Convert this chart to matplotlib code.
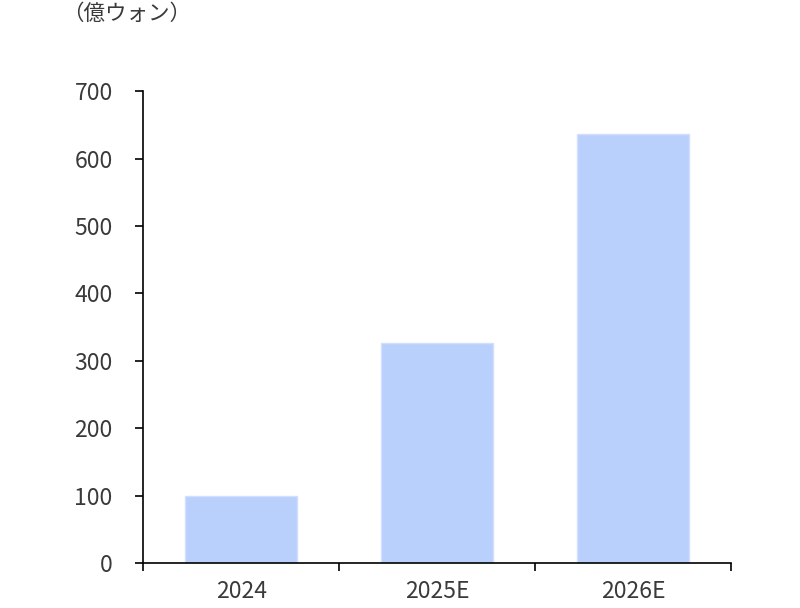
import matplotlib
matplotlib.use("Agg")
import matplotlib.pyplot as plt
from matplotlib.ticker import FixedLocator

categories = ["2024", "2025E", "2026E"]
values = [99, 326, 637]
yticks = [0, 100, 200, 300, 400, 500, 600, 700]
unit_label = "（億ウォン）"

plt.rcParams['font.family'] = ['Noto Sans CJK JP', 'DejaVu Sans']

fig = plt.figure(figsize=(8, 6.08), dpi=100)
ax = fig.add_axes([0.179, 0.074, 0.735, 0.776])

x = list(range(len(categories)))
ax.bar(x, values, width=0.57, color="#b9cffc", edgecolor="#d2e0fd", linewidth=1.0)

ax.set_xlim(-0.5, len(categories) - 0.5)
ax.set_ylim(0, 700)
ax.set_yticks(yticks)
ax.set_yticklabels([str(v) for v in yticks], fontsize=16.5, color="#3a3a3a")
ax.set_xticks(x)
ax.set_xticklabels(categories, fontsize=16.5, color="#3a3a3a")
ax.tick_params(axis='x', which='major', length=0, pad=12)
ax.xaxis.set_minor_locator(FixedLocator([i - 0.5 for i in range(len(categories) + 1)]))
ax.tick_params(axis='x', which='minor', length=6, width=1.2, direction='out', color='black')
ax.tick_params(axis='y', length=6, width=1.2, direction='out', pad=16, color='black')

for s in ['top', 'right']:
    ax.spines[s].set_visible(False)
for s in ['left', 'bottom']:
    ax.spines[s].set_linewidth(1.2)
    ax.spines[s].set_color('black')

fig.text(0.078, 0.977, unit_label, fontsize=15.5, color="#3a3a3a", ha='left', va='center')

fig.savefig("out.png", dpi=100)
